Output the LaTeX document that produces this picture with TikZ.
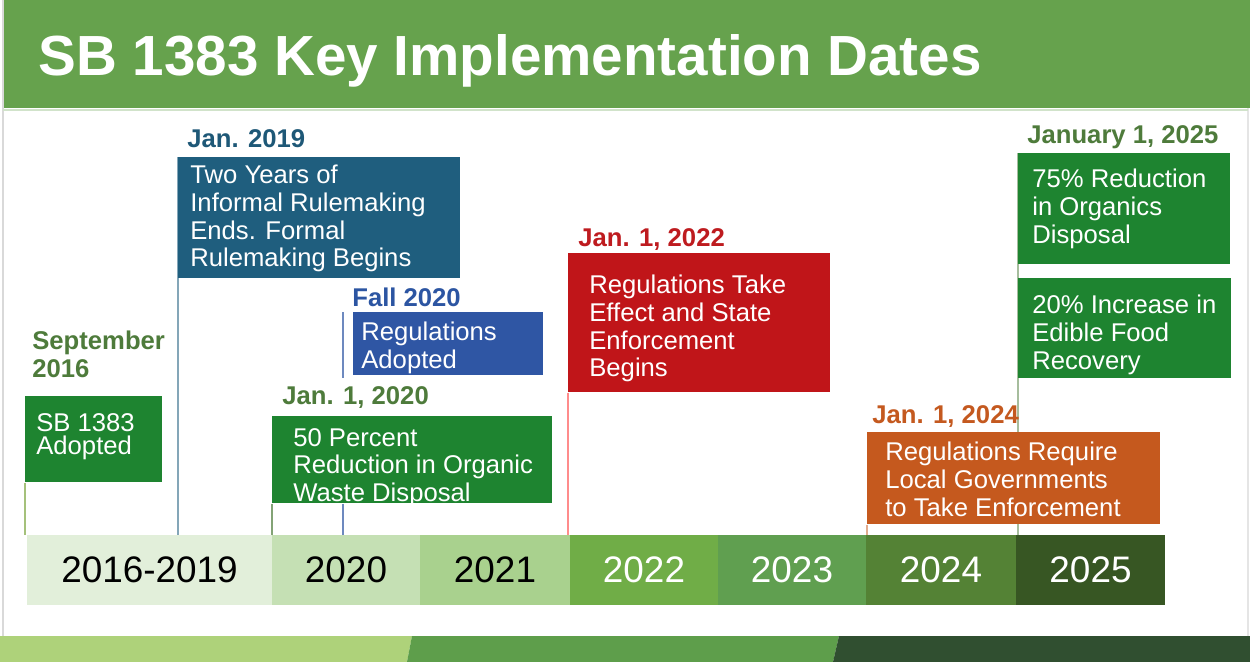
\documentclass[tikz,border=0pt]{standalone}
\usepackage{fontspec}
\setmainfont{Liberation Sans}
\usetikzlibrary{backgrounds}
\definecolor{hdgreen}{HTML}{66A24D}
\definecolor{boxgreen}{HTML}{1E8430}
\definecolor{boxteal}{HTML}{1F5E7E}
\definecolor{boxblue}{HTML}{2F56A4}
\definecolor{boxred}{HTML}{C01519}
\definecolor{boxorange}{HTML}{C5591E}
\definecolor{lbgreen}{HTML}{4E7B3B}
\definecolor{lbteal}{HTML}{1E5877}
\definecolor{lbblue}{HTML}{2C55A2}
\definecolor{lbred}{HTML}{BE1B1F}
\definecolor{lborange}{HTML}{C4591F}
\definecolor{yrA}{HTML}{E2EFDA}
\definecolor{yrB}{HTML}{C5E0B4}
\definecolor{yrC}{HTML}{A9D18E}
\definecolor{yrD}{HTML}{70AD47}
\definecolor{yrE}{HTML}{609F50}
\definecolor{yrF}{HTML}{548235}
\definecolor{yrG}{HTML}{375623}
\definecolor{bandA}{HTML}{AED27A}
\definecolor{bandB}{HTML}{5E9E4B}
\definecolor{bandC}{HTML}{304F30}

\tikzset{
  evbox/.style 2 args={anchor=north west, inner sep=0pt, minimum width=#1*0.2mm, minimum height=#2*0.2mm},
  boxtxt/.style={anchor=north west, inner sep=0pt, align=left, text=white, font=\fontsize{14.6}{15.7}\selectfont},
  datelbl/.style={anchor=north west, inner sep=0pt, align=left, font=\fontsize{14.6}{15.7}\selectfont\bfseries},
  yrseg/.style={inner sep=0pt, minimum height=70*0.2mm, font=\fontsize{21}{24}\selectfont},
  pin/.style={line width=0.6pt}
}

\begin{document}
\begin{tikzpicture}[x=0.2mm, y=-0.2mm]
\useasboundingbox (0,0) rectangle (1250,662);

% heading band
\fill[hdgreen] (3,0) rectangle (1250,108);
\draw[gray!30, line width=0.6pt] (3,0) -- (3,636);
\draw[gray!20, line width=0.6pt] (1248,108) -- (1248,636);
\draw[hdgreen!30, line width=0.8pt] (3,110) -- (1248,110);
\node[anchor=north west, inner sep=0pt, text=white, font=\fontsize{32.2}{36}\selectfont\bfseries] (title) at (38,34) {SB 1383 Key Implementation Dates};

% footer band
\fill[bandA] (0,636) -- (412,636) -- (407,662) -- (0,662) -- cycle;
\fill[bandB] (412,636) -- (839,636) -- (833,662) -- (407,662) -- cycle;
\fill[bandC] (839,636) -- (1250,636) -- (1250,662) -- (833,662) -- cycle;

% year bar
\foreach \name/\cx/\w/\col/\tc/\yr in {y16/149.5/245/yrA/black/2016-2019, y20/346/148/yrB/black/2020, y21/495/150/yrC/black/2021, y22/644/148/yrD/white/2022, y23/792/148/yrE/white/2023, y24/941/150/yrF/white/2024, y25/1090.5/149/yrG/white/2025}
  {\node[yrseg, minimum width=\w*0.2mm, fill=\col, text=\tc] (\name) at (\cx,570) {\yr};}

% boxes
\node[evbox={137}{86}, fill=boxgreen] (sb) at (25,396) {};
\node[evbox={282}{121}, fill=boxteal] (b19) at (178,157) {};
\node[evbox={190}{63}, fill=boxblue] (fall) at (353,312) {};
\node[evbox={280}{87}, fill=boxgreen] (b20) at (272,416) {};
\node[evbox={262}{139}, fill=boxred] (b22) at (568,253) {};
\node[evbox={293}{92}, fill=boxorange] (b24) at (867,432) {};
\node[evbox={212}{111}, fill=boxgreen] (b25a) at (1018,153) {};
\node[evbox={213}{100}, fill=boxgreen] (b25b) at (1018,278) {};

% box texts
\node[boxtxt, font=\fontsize{14.6}{13.2}\selectfont] (sbt) at (36,413) {SB 1383\\Adopted};
\node[boxtxt] (b19t) at (190,165) {Two Years of\\Informal Rulemaking\\Ends. Formal\\Rulemaking Begins};
\node[boxtxt] (fallt) at (361,322) {Regulations\\Adopted};
\node[boxtxt] (b20t) at (293,428) {50 Percent\\Reduction in Organic\\Waste Disposal};
\node[boxtxt] (b22t) at (589,275) {Regulations Take\\Effect and State\\Enforcement\\Begins};
\node[boxtxt] (b24t) at (885,442) {Regulations Require\\Local Governments\\to Take Enforcement};
\node[boxtxt] (b25at) at (1032,169) {75\% Reduction\\in Organics\\Disposal};
\node[boxtxt] (b25bt) at (1032,295) {20\% Increase in\\Edible Food\\Recovery};

% dates
\node[datelbl, text=lbgreen] (d16) at (32,331) {September\\2016};
\node[datelbl, text=lbteal] (d19) at (187,129) {Jan. 2019};
\node[datelbl, text=lbblue] (dfall) at (352,288) {Fall 2020};
\node[datelbl, text=lbgreen] (d20) at (282,386) {Jan. 1, 2020};
\node[datelbl, text=lbred] (d22) at (578,228) {Jan. 1, 2022};
\node[datelbl, text=lborange] (d24) at (872,405) {Jan. 1, 2024};
\node[datelbl, text=lbgreen] (d25) at (1027,125) {January 1, 2025};

% pins down to the year bar, kept behind the boxes
\coordinate (fallpin) at (343,312);
\begin{scope}[on background layer]
\fill[white] (0,0) rectangle (1250,662);
\draw[pin, draw=bandA!80!gray] (sb.south west) -- (sb.south west |- y16.north);
\draw[pin, draw=boxteal!55] (b19.north west) -- (b19.north west |- y16.north);
\draw[pin, draw=lbgreen!70] (b20.south west) -- (b20.south west |- y16.north);
\draw[pin, draw=boxblue!70] (fallpin) -- ([yshift=1.6mm]fallpin |- d20.north);
\draw[pin, draw=boxblue!70] (fallpin |- b20.south) -- (fallpin |- y20.north);
\draw[pin, draw=red!45] (b22.south west) -- (b22.south west |- y22.north);
\draw[pin, draw=boxorange!50] (b24.south west) -- (b24.south west |- y24.north);
\draw[pin, draw=lbgreen!50] (b25a.north west) -- (b25a.north west |- y25.north);
\end{scope}
\end{tikzpicture}
\end{document}
